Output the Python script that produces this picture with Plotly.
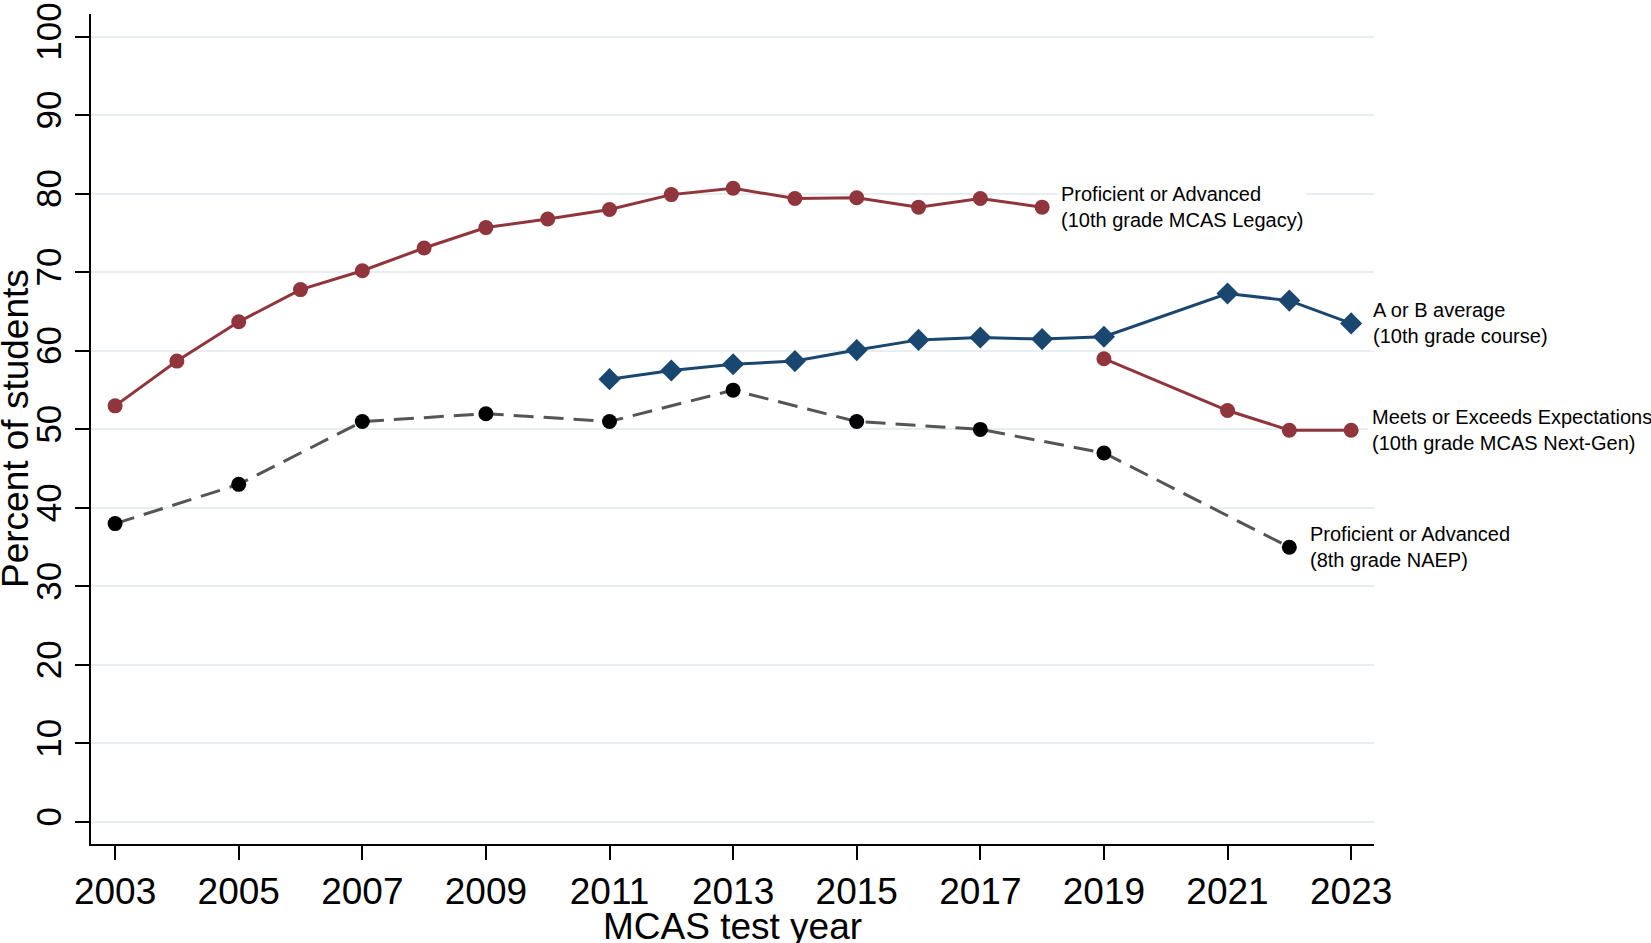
import plotly.graph_objects as go

# --- DATA ---
legacy_years = list(range(2003, 2019))
legacy_pct = [53.0, 58.7, 63.7, 67.8, 70.2, 73.1, 75.7, 76.8, 78.0, 79.9,
              80.7, 79.4, 79.5, 78.3, 79.4, 78.3]

grade_years = [2011, 2012, 2013, 2014, 2015, 2016, 2017, 2018, 2019, 2021, 2022, 2023]
grade_pct = [56.4, 57.5, 58.3, 58.7, 60.1, 61.4, 61.7, 61.5, 61.8, 67.3, 66.4, 63.5]

nextgen_years = [2019, 2021, 2022, 2023]
nextgen_pct = [59.0, 52.4, 49.9, 49.9]

naep_years = [2003, 2005, 2007, 2009, 2011, 2013, 2015, 2017, 2019, 2022]
naep_pct = [38, 43, 51, 52, 51, 55, 51, 50, 47, 35]

x_ticks = list(range(2003, 2024, 2))
y_ticks = list(range(0, 101, 10))

# --- STYLE ---
MAROON = "#90353B"
NAVY = "#1A476F"
DASH_GRAY = "#555555"
GRID = "#E6EEF1"
FONT = "Arial, Liberation Sans, sans-serif"

fig = go.Figure()

fig.add_trace(go.Scatter(
    x=legacy_years, y=legacy_pct, mode="lines+markers",
    line=dict(color=MAROON, width=3),
    marker=dict(color=MAROON, size=15, symbol="circle"),
    name="Proficient or Advanced (10th grade MCAS Legacy)",
))
fig.add_trace(go.Scatter(
    x=naep_years, y=naep_pct, mode="lines+markers",
    line=dict(color=DASH_GRAY, width=3, dash="20px,10px"),
    marker=dict(color="black", size=15, symbol="circle"),
    name="Proficient or Advanced (8th grade NAEP)",
))
fig.add_trace(go.Scatter(
    x=nextgen_years, y=nextgen_pct, mode="lines+markers",
    line=dict(color=MAROON, width=3),
    marker=dict(color=MAROON, size=15, symbol="circle"),
    name="Meets or Exceeds Expectations (10th grade MCAS Next-Gen)",
))
fig.add_trace(go.Scatter(
    x=grade_years, y=grade_pct, mode="lines+markers",
    line=dict(color=NAVY, width=3),
    marker=dict(color=NAVY, size=17, symbol="diamond"),
    name="A or B average (10th grade course)",
))

# end-of-line labels
labels = [
    (legacy_years[-1], legacy_pct[-1], "Proficient or Advanced<br>(10th grade MCAS Legacy)", 15),
    (grade_years[-1], grade_pct[-1], "A or B average<br>(10th grade course)", 18),
    (nextgen_years[-1], nextgen_pct[-1], "Meets or Exceeds Expectations<br>(10th grade MCAS Next-Gen)", 17),
    (naep_years[-1], naep_pct[-1], "Proficient or Advanced<br>(8th grade NAEP)", 17),
]
for lx, ly, txt, shift in labels:
    fig.add_annotation(
        x=lx, y=ly, text=txt, showarrow=False,
        xanchor="left", yanchor="middle", align="left",
        xshift=shift, bgcolor="white", borderpad=3,
        font=dict(family=FONT, size=20, color="black"),
    )

# axis titles placed by hand (the reference pushes them to the page edges)
fig.add_annotation(
    xref="paper", yref="paper", x=0, y=0.5,
    text="Percent of students", textangle=-90, showarrow=False,
    xanchor="center", yanchor="middle", xshift=-76,
    font=dict(family=FONT, size=37, color="black"),
)
fig.add_annotation(
    xref="paper", yref="paper", x=0.5, y=0,
    text="MCAS test year", showarrow=False,
    xanchor="center", yanchor="middle", yshift=-82,
    font=dict(family=FONT, size=37, color="black"),
)

fig.update_layout(
    width=1651, height=943,
    paper_bgcolor="white", plot_bgcolor="white",
    showlegend=False,
    margin=dict(l=91, r=277, t=14, b=99, autoexpand=False),
    font=dict(family=FONT, color="black"),
)
fig.update_xaxes(
    range=[2002.61, 2023.37], automargin=False,
    tickvals=x_ticks, ticktext=[str(v) for v in x_ticks],
    showgrid=False, zeroline=False,
    showline=True, linecolor="black", linewidth=2,
    ticks="outside", ticklen=14, tickwidth=2, tickcolor="black",
    tickfont=dict(family=FONT, size=37, color="black"),
)
fig.update_yaxes(
    range=[-2.8, 102.9], automargin=False,
    tickvals=y_ticks, ticktext=[str(v) for v in y_ticks],
    tickangle=-90, ticklabeloverflow="allow",
    showgrid=True, gridcolor=GRID, gridwidth=2, zeroline=False,
    showline=True, linecolor="black", linewidth=2,
    ticks="outside", ticklen=14, tickwidth=2, tickcolor="black",
    tickfont=dict(family=FONT, size=35, color="black"),
)

# drop the browser's default 8px body margin so the figure fills the window
fig.write_html("out.html", config={"displayModeBar": False},
               post_script="document.body.style.margin = '0';")
